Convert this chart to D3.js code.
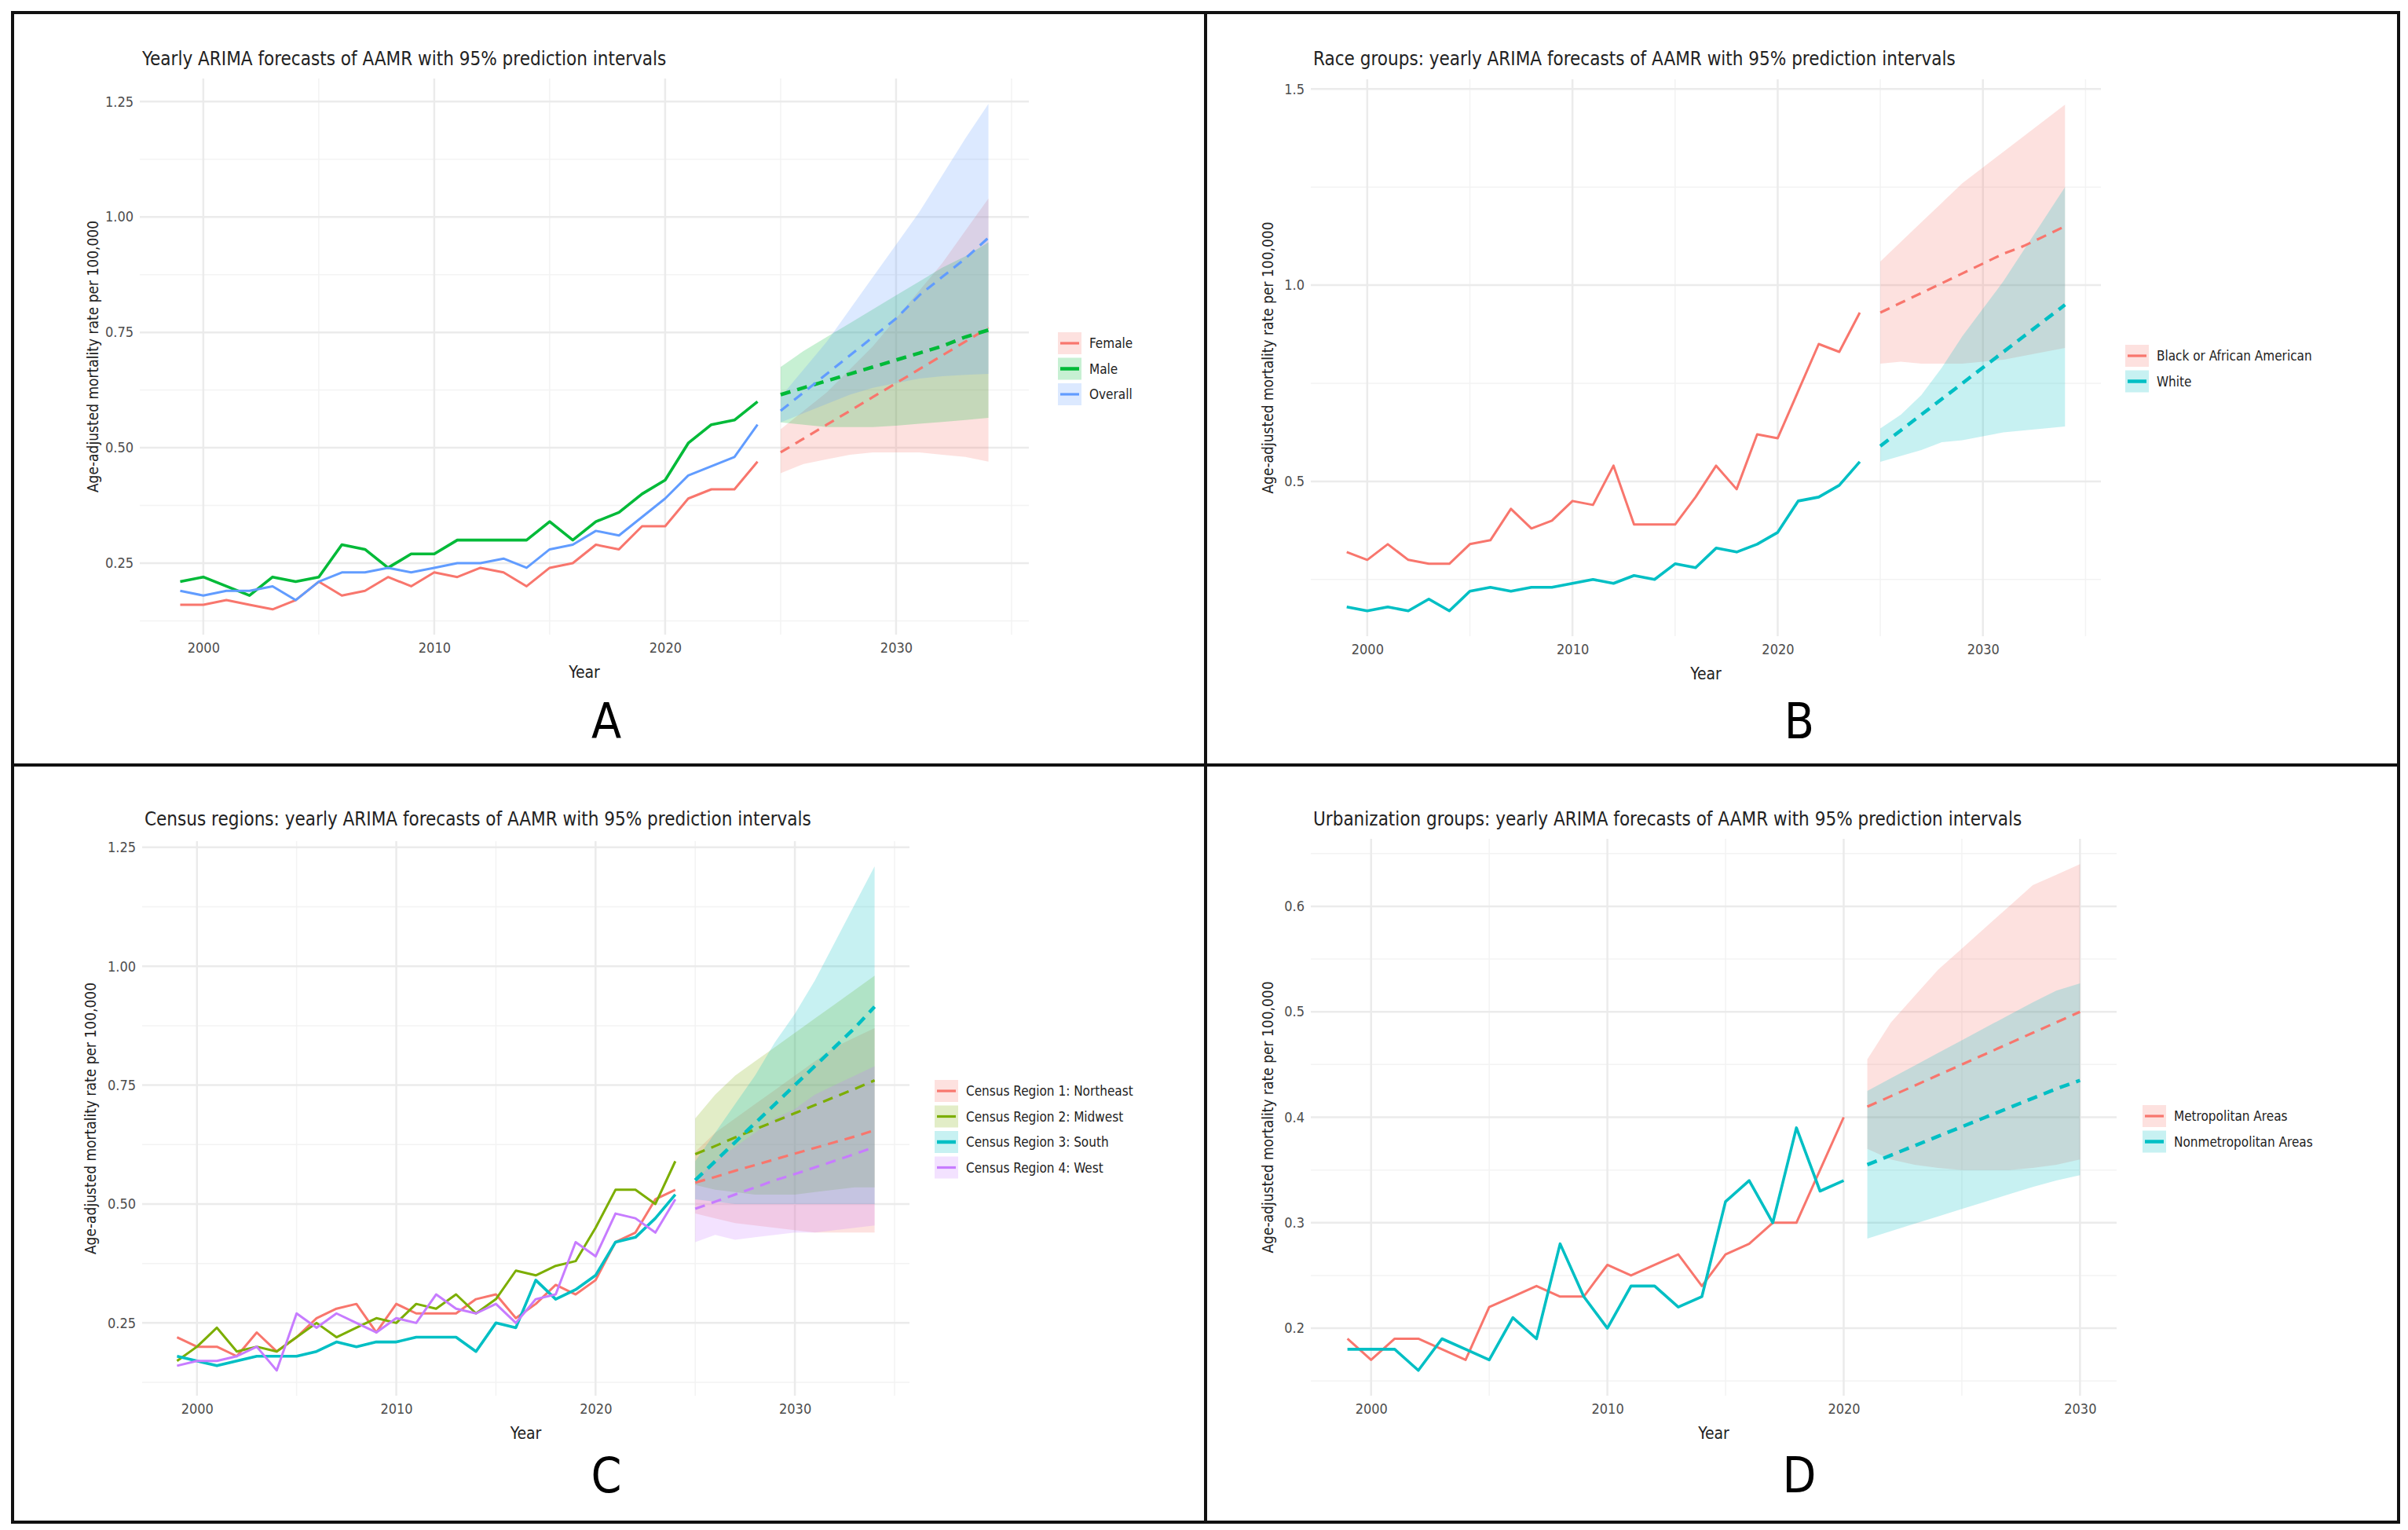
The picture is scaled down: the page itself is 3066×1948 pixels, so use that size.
<!DOCTYPE html>
<html>
<head>
<meta charset="utf-8">
<script src="https://cdn.jsdelivr.net/npm/d3@7"></script>
<style>
  body { margin: 0; background: #fff; }
  text { font-family: "Liberation Sans Narrow", "DejaVu Sans Condensed", "Liberation Sans", sans-serif; }
</style>
</head>
<body>
<script>
// observed years and forecast years
const yearsObs = d3.range(1999, 2025);
const yearsFc = d3.range(2025, 2035);
const yearsObsD = d3.range(1999, 2021);
const yearsFcD = d3.range(2021, 2031);

// panel A: sex
const femaleObs = [.16,.16,.17,.16,.15,.17,.21,.18,.19,.22,.20,.23,.22,.24,.23,.20,.24,.25,.29,.28,.33,.33,.39,.41,.41,.47];
const maleObs = [.21,.22,.20,.18,.22,.21,.22,.29,.28,.24,.27,.27,.30,.30,.30,.30,.34,.30,.34,.36,.40,.43,.51,.55,.56,.60];
const overallObs = [.19,.18,.19,.19,.20,.17,.21,.23,.23,.24,.23,.24,.25,.25,.26,.24,.28,.29,.32,.31,.35,.39,.44,.46,.48,.55];
const femaleFc = [.49,.52,.55,.58,.61,.64,.67,.70,.73,.76];
const femaleLo = [.445,.465,.475,.485,.49,.49,.49,.485,.48,.47];
const femaleHi = [.54,.58,.62,.67,.72,.78,.84,.90,.97,1.04];
const maleFc = [.615,.63,.645,.66,.675,.69,.705,.72,.74,.755];
const maleLo = [.555,.55,.545,.545,.545,.548,.552,.556,.56,.565];
const maleHi = [.675,.71,.74,.77,.80,.83,.86,.89,.915,.945];
const overallFc = [.58,.62,.66,.70,.74,.78,.83,.87,.91,.955];
const overallLo = [.555,.575,.595,.615,.63,.64,.65,.655,.658,.66];
const overallHi = [.61,.67,.73,.80,.87,.94,1.01,1.09,1.17,1.245];

// panel B: race
const blackObs = [.32,.30,.34,.30,.29,.29,.34,.35,.43,.38,.40,.45,.44,.54,.39,.39,.39,.46,.54,.48,.62,.61,.73,.85,.83,.93];
const whiteObs = [.18,.17,.18,.17,.20,.17,.22,.23,.22,.23,.23,.24,.25,.24,.26,.25,.29,.28,.33,.32,.34,.37,.45,.46,.49,.55];
const blackFc = [.93,.955,.98,1.005,1.03,1.055,1.08,1.10,1.125,1.15];
const blackLo = [.80,.805,.80,.80,.80,.805,.81,.82,.83,.84];
const blackHi = [1.06,1.11,1.16,1.21,1.26,1.30,1.34,1.38,1.42,1.46];
const whiteFc = [.59,.63,.67,.71,.75,.79,.83,.87,.91,.95];
const whiteLo = [.55,.565,.58,.60,.605,.615,.625,.63,.635,.64];
const whiteHi = [.635,.67,.72,.79,.87,.94,1.01,1.09,1.17,1.25];

// panel C: census regions
const neObs = [.22,.20,.20,.18,.23,.19,.22,.26,.28,.29,.23,.29,.27,.27,.27,.30,.31,.26,.29,.33,.31,.34,.42,.44,.51,.53];
const mwObs = [.17,.20,.24,.19,.20,.19,.22,.25,.22,.24,.26,.25,.29,.28,.31,.27,.30,.36,.35,.37,.38,.45,.53,.53,.50,.59];
const southObs = [.18,.17,.16,.17,.18,.18,.18,.19,.21,.20,.21,.21,.22,.22,.22,.19,.25,.24,.34,.30,.32,.35,.42,.43,.47,.52];
const westObs = [.16,.17,.17,.18,.20,.15,.27,.24,.27,.25,.23,.26,.25,.31,.28,.27,.29,.25,.30,.31,.42,.39,.48,.47,.44,.51];
const neFc = [.545,.557,.57,.582,.594,.606,.618,.63,.642,.655];
const neLo = [.48,.47,.46,.455,.45,.445,.44,.44,.44,.44];
const neHi = [.61,.65,.68,.71,.74,.77,.80,.83,.85,.87];
const mwFc = [.605,.622,.64,.657,.674,.691,.708,.725,.742,.76];
const mwLo = [.54,.53,.525,.52,.52,.52,.525,.53,.535,.535];
const mwHi = [.68,.73,.77,.80,.83,.86,.89,.92,.95,.98];
const southFc = [.55,.59,.63,.67,.71,.75,.79,.83,.87,.915];
const southLo = [.51,.505,.50,.50,.50,.50,.50,.50,.50,.50];
const southHi = [.59,.65,.71,.77,.84,.90,.97,1.05,1.13,1.21];
const westFc = [.49,.505,.52,.535,.55,.563,.577,.591,.605,.62];
const westLo = [.42,.435,.425,.43,.435,.44,.44,.445,.45,.455];
const westHi = [.55,.59,.62,.65,.68,.70,.73,.75,.77,.79];

// panel D: urbanization
const metroObs = [.19,.17,.19,.19,.18,.17,.22,.23,.24,.23,.23,.26,.25,.26,.27,.24,.27,.28,.30,.30,.35,.40];
const nonmetroObs = [.18,.18,.18,.16,.19,.18,.17,.21,.19,.28,.23,.20,.24,.24,.22,.23,.32,.34,.30,.39,.33,.34];
const metroFc = [.41,.42,.43,.44,.45,.46,.47,.48,.49,.50];
const metroLo = [.37,.36,.355,.352,.35,.35,.35,.352,.355,.36];
const metroHi = [.455,.49,.515,.54,.56,.58,.60,.62,.63,.64];
const nonmetroFc = [.355,.364,.373,.382,.391,.400,.409,.418,.427,.435];
const nonmetroLo = [.285,.292,.299,.306,.313,.32,.327,.334,.34,.345];
const nonmetroHi = [.425,.437,.449,.461,.473,.485,.497,.509,.52,.527];

// tick labels
const ticksA = [0.25, 0.50, 0.75, 1.00, 1.25];
const ticksB = [0.5, 1.0, 1.5];
const ticksC = [0.25, 0.50, 0.75, 1.00, 1.25];
const ticksD = [0.2, 0.3, 0.4, 0.5, 0.6];
const xTicks = [2000, 2010, 2020, 2030];

const ser = (name, color, obs, fc, lo, hi, wide) => ({ name, color, obs, fc, lo, hi, wide });

const panels = [
  { ox: 0, oy: 0, letter: 'A', title: 'Yearly ARIMA forecasts of AAMR with 95% prediction intervals',
    x0: 178, x1: 1310, y0: 100, y1: 808, titleY: 83, obsYears: yearsObs, fcYears: yearsFc, yTicks: ticksA, fmt: d3.format('.2f'),
    ylabX: 125, legX: 1347, legY: 437, letterX: 772, letterY: 940,
    series: [ser('Female', '#F8766D', femaleObs, femaleFc, femaleLo, femaleHi),
             ser('Male', '#00BA38', maleObs, maleFc, maleLo, maleHi, true),
             ser('Overall', '#619CFF', overallObs, overallFc, overallLo, overallHi)] },
  { ox: 1533, oy: 0, letter: 'B', title: 'Race groups: yearly ARIMA forecasts of AAMR with 95% prediction intervals',
    x0: 136, x1: 1142, y0: 101, y1: 810, titleY: 83, obsYears: yearsObs, fcYears: yearsFc, yTicks: ticksB, fmt: d3.format('.1f'),
    ylabX: 88, legX: 1173, legY: 453, letterX: 758, letterY: 940,
    series: [ser('Black or African American', '#F8766D', blackObs, blackFc, blackLo, blackHi),
             ser('White', '#00BFC4', whiteObs, whiteFc, whiteLo, whiteHi, true)] },
  { ox: 0, oy: 974, letter: 'C', title: 'Census regions: yearly ARIMA forecasts of AAMR with 95% prediction intervals',
    x0: 181, x1: 1158, y0: 97, y1: 803, titleY: 77, obsYears: yearsObs, fcYears: yearsFc, yTicks: ticksC, fmt: d3.format('.2f'),
    ylabX: 122, legX: 1190, legY: 415, letterX: 772, letterY: 926,
    series: [ser('Census Region 1: Northeast', '#F8766D', neObs, neFc, neLo, neHi),
             ser('Census Region 2: Midwest', '#7CAE00', mwObs, mwFc, mwLo, mwHi),
             ser('Census Region 3: South', '#00BFC4', southObs, southFc, southLo, southHi, true),
             ser('Census Region 4: West', '#C77CFF', westObs, westFc, westLo, westHi)] },
  { ox: 1533, oy: 974, letter: 'D', title: 'Urbanization groups: yearly ARIMA forecasts of AAMR with 95% prediction intervals',
    x0: 136, x1: 1162, y0: 94, y1: 803, titleY: 77, obsYears: yearsObsD, fcYears: yearsFcD, yTicks: ticksD, fmt: d3.format('.1f'),
    ylabX: 88, legX: 1195, legY: 447, letterX: 758, letterY: 926,
    series: [ser('Metropolitan Areas', '#F8766D', metroObs, metroFc, metroLo, metroHi),
             ser('Nonmetropolitan Areas', '#00BFC4', nonmetroObs, nonmetroFc, nonmetroLo, nonmetroHi, true)] }
];

const svg = d3.select('body').append('svg').attr('width', 3066).attr('height', 1948);

panels.forEach(p => {
  const g = svg.append('g').attr('transform', `translate(${p.ox},${p.oy})`);

  // ggplot-style 5% expansion of the data range
  const allYears = p.obsYears.concat(p.fcYears);
  const allVals = p.series.flatMap(s => s.obs.concat(s.lo, s.hi));
  const xe = d3.extent(allYears), ye = d3.extent(allVals);
  const xp = (xe[1] - xe[0]) * 0.05, yp = (ye[1] - ye[0]) * 0.05;
  const x = d3.scaleLinear().domain([xe[0] - xp, xe[1] + xp]).range([p.x0, p.x1]);
  const y = d3.scaleLinear().domain([ye[0] - yp, ye[1] + yp]).range([p.y1, p.y0]);

  // grid
  const yStep = p.yTicks[1] - p.yTicks[0];
  const yMinor = d3.range(p.yTicks[0] - yStep / 2, p.yTicks[p.yTicks.length - 1] + yStep, yStep)
    .filter(v => v >= y.domain()[0] && v <= y.domain()[1]);
  const xMinor = [1995, 2005, 2015, 2025, 2035].filter(v => v >= x.domain()[0] && v <= x.domain()[1]);
  g.selectAll('.ymin').data(yMinor).join('line')
    .attr('x1', p.x0).attr('x2', p.x1).attr('y1', d => y(d)).attr('y2', d => y(d))
    .attr('stroke', '#f3f3f3').attr('stroke-width', 1.5);
  g.selectAll('.xmin').data(xMinor).join('line')
    .attr('x1', d => x(d)).attr('x2', d => x(d)).attr('y1', p.y0).attr('y2', p.y1)
    .attr('stroke', '#f3f3f3').attr('stroke-width', 1.5);
  g.selectAll('.ymaj').data(p.yTicks.filter(v => v <= y.domain()[1])).join('line')
    .attr('x1', p.x0).attr('x2', p.x1).attr('y1', d => y(d)).attr('y2', d => y(d))
    .attr('stroke', '#ebebeb').attr('stroke-width', 2.5);
  g.selectAll('.xmaj').data(xTicks.filter(v => v <= x.domain()[1])).join('line')
    .attr('x1', d => x(d)).attr('x2', d => x(d)).attr('y1', p.y0).attr('y2', p.y1)
    .attr('stroke', '#ebebeb').attr('stroke-width', 2.5);

  // tick labels via d3 axes with no lines
  const yAxis = g.append('g').attr('transform', `translate(${p.x0},0)`)
    .call(d3.axisLeft(y).tickValues(p.yTicks.filter(v => v <= y.domain()[1])).tickFormat(p.fmt).tickSize(0).tickPadding(8));
  const xAxis = g.append('g').attr('transform', `translate(0,${p.y1})`)
    .call(d3.axisBottom(x).tickValues(xTicks.filter(v => v <= x.domain()[1])).tickFormat(d3.format('d')).tickSize(0).tickPadding(10));
  [yAxis, xAxis].forEach(a => {
    a.select('.domain').remove();
    a.selectAll('text').attr('fill', '#4d4d4d').attr('font-size', 18)
      .attr('font-family', '"Liberation Sans Narrow", "DejaVu Sans Condensed", sans-serif');
  });

  // ribbons
  const area = d3.area().x(d => x(d.yr)).y0(d => y(d.lo)).y1(d => y(d.hi));
  p.series.forEach(s => {
    const rows = p.fcYears.map((yr, i) => ({ yr, lo: s.lo[i], hi: s.hi[i] }));
    g.append('path').attr('d', area(rows)).attr('fill', s.color).attr('fill-opacity', 0.22);
  });

  // lines
  const line = d3.line().x(d => x(d[0])).y(d => y(d[1]));
  p.series.forEach(s => {
    g.append('path').attr('d', line(p.obsYears.map((yr, i) => [yr, s.obs[i]])))
      .attr('fill', 'none').attr('stroke', s.color).attr('stroke-width', s.wide ? 3.6 : 3)
      .attr('stroke-linejoin', 'round');
  });
  p.series.forEach(s => {
    g.append('path').attr('d', line(p.fcYears.map((yr, i) => [yr, s.fc[i]])))
      .attr('fill', 'none').attr('stroke', s.color).attr('stroke-width', s.wide ? 4.5 : 3.2)
      .attr('stroke-dasharray', '13,9');
  });

  // titles
  g.append('text').attr('x', p.x0 + 3).attr('y', p.titleY).attr('font-size', 24).attr('fill', '#222').text(p.title);
  g.append('text').attr('x', (p.x0 + p.x1) / 2).attr('y', p.y1 + 55).attr('text-anchor', 'middle')
    .attr('font-size', 21).attr('fill', '#222').text('Year');
  g.append('text').attr('transform', `translate(${p.ylabX},${(p.y0 + p.y1) / 2}) rotate(-90)`)
    .attr('text-anchor', 'middle').attr('font-size', 19).attr('fill', '#222')
    .attr('font-family', '"Liberation Sans", Arial, sans-serif').text('Age-adjusted mortality rate per 100,000');

  // legend
  const leg = g.selectAll('.leg').data(p.series).join('g')
    .attr('transform', (d, i) => `translate(${p.legX},${p.legY + i * 32.5})`);
  leg.append('rect').attr('x', 0).attr('y', -14).attr('width', 30).attr('height', 28)
    .attr('fill', d => d.color).attr('fill-opacity', 0.22);
  leg.append('line').attr('x1', 3).attr('x2', 27).attr('y1', 0).attr('y2', 0)
    .attr('stroke', d => d.color).attr('stroke-width', d => d.wide ? 4.5 : 3.2);
  leg.append('text').attr('x', 40).attr('y', 6).attr('font-size', 17).attr('fill', '#222').text(d => d.name);

  // panel letter
  g.append('text').attr('x', p.letterX).attr('y', p.letterY)
    .attr('text-anchor', 'middle').attr('font-size', 62).attr('fill', '#000')
    .attr('font-family', '"Liberation Sans", Arial, sans-serif').text(p.letter);
});

// frame
svg.append('rect').attr('x', 16).attr('y', 16).attr('width', 3038).attr('height', 1922)
  .attr('fill', 'none').attr('stroke', '#111').attr('stroke-width', 4);
svg.append('line').attr('x1', 1535).attr('x2', 1535).attr('y1', 16).attr('y2', 1938).attr('stroke', '#111').attr('stroke-width', 4);
svg.append('line').attr('x1', 16).attr('x2', 3054).attr('y1', 974).attr('y2', 974).attr('stroke', '#111').attr('stroke-width', 4);
</script>
</body>
</html>
